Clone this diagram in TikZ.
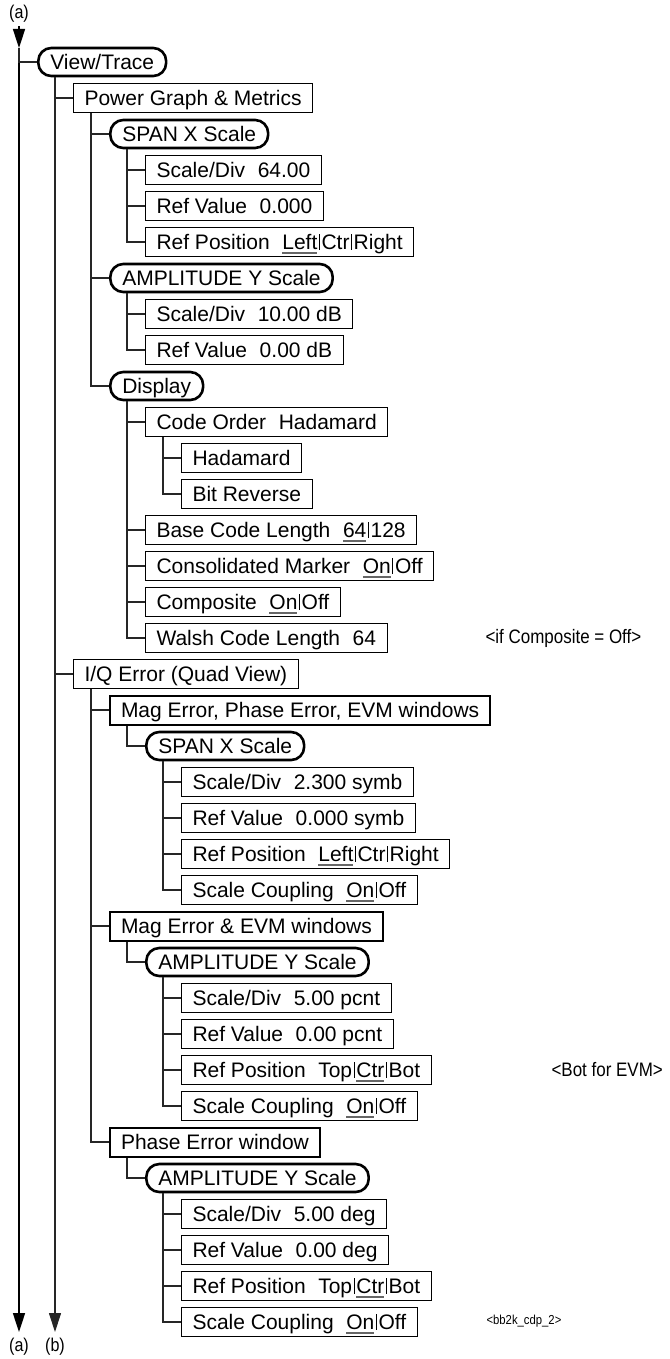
\documentclass[tikz,border=0pt]{standalone}
\usepackage{fontspec}
\setmainfont{Liberation Sans}
\newfontfamily\narrowfont[FakeStretch=0.87]{Liberation Sans}
\usetikzlibrary{arrows.meta}

% underlined (default) choice and the thin separator bar
\newcommand\selopt[1]{\setbox0\hbox{#1}\rlap{\color{black!60}\rule[-4pt]{\wd0}{1.2pt}}#1}
\newcommand\sbar{\makebox[0.2em]{\rule{0.05em}{0.72em}}}
\newcommand\gap{\hspace{0.6em}}

\begin{document}
\begin{tikzpicture}[x=1pt, y=-1pt]
  \useasboundingbox (0,0) rectangle (669,1359);

  % ---- Styles --------------------------------------------------
  \tikzstyle{box}=[draw, line width=1pt, anchor=west, minimum height=29pt,
                   inner xsep=11pt, inner ysep=0pt, text height=15pt,
                   text depth=0pt, font=\fontsize{21}{25}\selectfont]
  \tikzstyle{keybox}=[box, rounded corners=13pt, line width=2.6pt,
                      minimum height=28pt, inner xsep=12pt]
  \tikzstyle{winbox}=[box, line width=2pt]
  \tikzstyle{link}=[line width=1.1pt, black!85]
  \tikzstyle{mainlink}=[line width=1.6pt, black]
  \tikzstyle{tip}=[-{Triangle[length=19pt, width=12pt]}]
  \tikzstyle{note}=[anchor=west, font=\narrowfont\fontsize{19.5}{22}\selectfont]
  \tikzstyle{tag}=[font=\narrowfont\fontsize{18.5}{21}\selectfont]

  % ---- Entry / exit arrows ------------------------------------
  \node[tag] (atop) at (19, 14) {(a)};
  \coordinate (amid) at (19, 48);
  \coordinate (aend) at (19, 1332);
  \coordinate (bend) at (55, 1332);
  \node[tag] (abot) at (19, 1347) {(a)};
  \node[tag] (bbot) at (55, 1347) {(b)};

  % ---- View/Trace and Power Graph branch ----------------------
  \node[keybox] (vt)    at (37,   62) {View/Trace};
  \node[box]    (pg)    at (73,   98) {Power Graph \& Metrics};
  \node[keybox] (pspan) at (109, 134) {SPAN X Scale};
  \node[box]    (psd)   at (145, 170) {Scale/Div\gap 64.00};
  \node[box]    (prv)   at (145, 206) {Ref Value\gap 0.000};
  \node[box]    (prp)   at (145, 242) {Ref Position\gap \selopt{Left}\sbar Ctr\sbar Right};
  \node[keybox] (pamp)  at (109, 278) {AMPLITUDE Y Scale};
  \node[box]    (pasd)  at (145, 314) {Scale/Div\gap 10.00 dB};
  \node[box]    (parv)  at (145, 350) {Ref Value\gap 0.00 dB};
  \node[keybox] (disp)  at (109, 386) {Display};
  \node[box]    (cord)  at (145, 422) {Code Order\gap Hadamard};
  \node[box]    (had)   at (181, 458) {Hadamard};
  \node[box]    (bitr)  at (181, 494) {Bit Reverse};
  \node[box]    (bcl)   at (145, 530) {Base Code Length\gap \selopt{64}\sbar 128};
  \node[box]    (cmk)   at (145, 566) {Consolidated Marker\gap \selopt{On}\sbar Off};
  \node[box]    (comp)  at (145, 602) {Composite\gap \selopt{On}\sbar Off};
  \node[box]    (wcl)   at (145, 638) {Walsh Code Length\gap 64};
  \node[note]   (ncomp) at (482, 638) {<if Composite = Off>};

  % ---- I/Q Error branch ---------------------------------------
  \node[box]    (iq)    at (73,  674) {I/Q Error (Quad View)};
  \node[winbox] (mpe)   at (109, 710) {Mag Error, Phase Error, EVM windows};
  \node[keybox] (ispan) at (145, 746) {SPAN X Scale};
  \node[box]    (isd)   at (181, 782) {Scale/Div\gap 2.300 symb};
  \node[box]    (irv)   at (181, 818) {Ref Value\gap 0.000 symb};
  \node[box]    (irp)   at (181, 854) {Ref Position\gap \selopt{Left}\sbar Ctr\sbar Right};
  \node[box]    (isc)   at (181, 890) {Scale Coupling\gap \selopt{On}\sbar Off};
  \node[winbox] (mev)   at (109, 926) {Mag Error \& EVM windows};
  \node[keybox] (mamp)  at (145, 962) {AMPLITUDE Y Scale};
  \node[box]    (msd)   at (181, 998) {Scale/Div\gap 5.00 pcnt};
  \node[box]    (mrv)   at (181,1034) {Ref Value\gap 0.00 pcnt};
  \node[box]    (mrp)   at (181,1070) {Ref Position\gap Top\sbar\selopt{Ctr}\sbar Bot};
  \node[note]   (nbot)  at (548,1070) {<Bot for EVM>};
  \node[box]    (msc)   at (181,1106) {Scale Coupling\gap \selopt{On}\sbar Off};
  \node[winbox] (phw)   at (109,1142) {Phase Error window};
  \node[keybox] (phamp) at (145,1178) {AMPLITUDE Y Scale};
  \node[box]    (phsd)  at (181,1214) {Scale/Div\gap 5.00 deg};
  \node[box]    (phrv)  at (181,1250) {Ref Value\gap 0.00 deg};
  \node[box]    (phrp)  at (181,1286) {Ref Position\gap Top\sbar\selopt{Ctr}\sbar Bot};
  \node[box]    (phsc)  at (181,1322) {Scale Coupling\gap \selopt{On}\sbar Off};
  \node[anchor=west, font=\narrowfont\fontsize{13}{15}\selectfont] (fig) at (483,1321) {<bb2k\_cdp\_2>};

  % ---- Tree lines ---------------------------------------------
  \draw[mainlink, tip] (atop.south) -- (amid);
  \draw[mainlink, tip] (amid) -- (aend);
  \draw[link] (amid) |- (vt.west);
  \draw[link, tip] ([xshift=18pt]vt.south west) -- (bend);
  \foreach \c in {pg, iq}
    \draw[link] ([xshift=18pt]vt.south west) |- (\c.west);
  \foreach \c in {pspan, pamp, disp}
    \draw[link] ([xshift=18pt]pg.south west) |- (\c.west);
  \foreach \c in {psd, prv, prp}
    \draw[link] ([xshift=18pt]pspan.south west) |- (\c.west);
  \foreach \c in {pasd, parv}
    \draw[link] ([xshift=18pt]pamp.south west) |- (\c.west);
  \foreach \c in {cord, bcl, cmk, comp, wcl}
    \draw[link] ([xshift=18pt]disp.south west) |- (\c.west);
  \foreach \c in {had, bitr}
    \draw[link] ([xshift=18pt]cord.south west) |- (\c.west);
  \foreach \c in {mpe, mev, phw}
    \draw[link] ([xshift=18pt]iq.south west) |- (\c.west);
  \draw[link] ([xshift=18pt]mpe.south west) |- (ispan.west);
  \foreach \c in {isd, irv, irp, isc}
    \draw[link] ([xshift=18pt]ispan.south west) |- (\c.west);
  \draw[link] ([xshift=18pt]mev.south west) |- (mamp.west);
  \foreach \c in {msd, mrv, mrp, msc}
    \draw[link] ([xshift=18pt]mamp.south west) |- (\c.west);
  \draw[link] ([xshift=18pt]phw.south west) |- (phamp.west);
  \foreach \c in {phsd, phrv, phrp, phsc}
    \draw[link] ([xshift=18pt]phamp.south west) |- (\c.west);

\end{tikzpicture}
\end{document}
